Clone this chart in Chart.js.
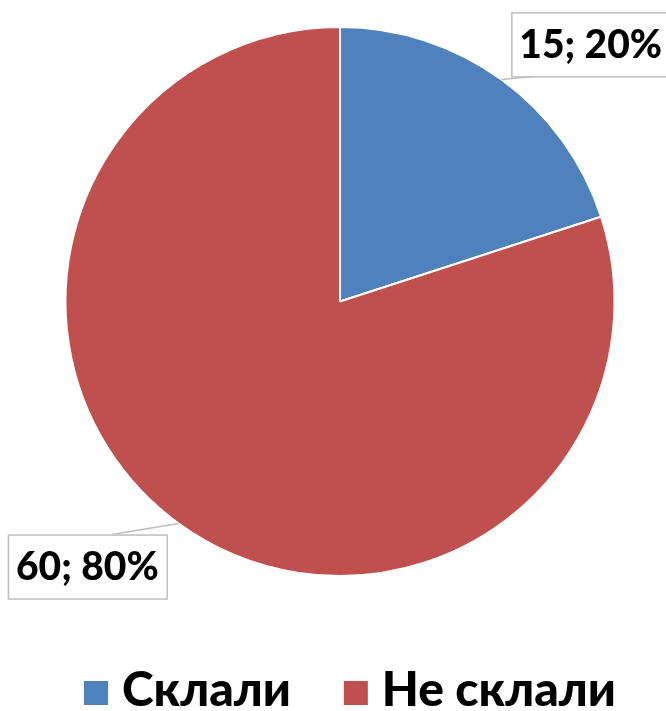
<!DOCTYPE html>
<html>
<head>
<meta charset="utf-8">
<script src="https://cdn.jsdelivr.net/npm/chart.js@4"></script>
<style>
  html, body { margin: 0; padding: 0; background: #fff; }
  #wrap { width: 666px; height: 711px; }
</style>
</head>
<body>
<div id="wrap"><canvas id="pie" width="666" height="711"></canvas></div>
<script>
// дані діаграми
const categories = ["Склали", "Не склали"];
const counts = [15, 60];
const percents = [20, 80];
const colors = ["#4F81BD", "#C0504D"];

const FONT = "Lato, 'Liberation Sans', sans-serif";

// підписи з рамками та виносні лінії
const calloutPlugin = {
  id: "callouts",
  afterDatasetsDraw(chart) {
    const ctx = chart.ctx;
    const arcs = chart.getDatasetMeta(0).data;
    ctx.save();
    ctx.font = "900 39px " + FONT;
    ctx.textBaseline = "middle";
    arcs.forEach((arc, i) => {
      const mid = (arc.startAngle + arc.endAngle) / 2;
      const ex = arc.x + Math.cos(mid) * arc.outerRadius;
      const ey = arc.y + Math.sin(mid) * arc.outerRadius;
      const text = counts[i] + "; " + percents[i] + "%";
      const w = ctx.measureText(text).width + 16;
      const h = 64;
      let bx, by, lx, ly;
      if (Math.cos(mid) >= 0) {
        bx = ex + 10; by = ey - 3 - h;
        lx = bx + 22; ly = by + h;
      } else {
        bx = ex - 12 - w; by = ey + 11;
        lx = bx + w - 55; ly = by;
      }
      ctx.strokeStyle = "#BFBFBF";
      ctx.lineWidth = 1.5;
      ctx.beginPath();
      ctx.moveTo(ex, ey);
      ctx.lineTo(lx, ly);
      ctx.stroke();
      ctx.fillStyle = "#fff";
      ctx.fillRect(bx, by, w, h);
      ctx.strokeRect(bx + 0.5, by + 0.5, w, h);
      ctx.fillStyle = "#000";
      ctx.textAlign = "center";
      ctx.fillText(text, bx + w / 2, by + h / 2 + 1);
    });
    ctx.restore();
  }
};

// легенда внизу
const legendPlugin = {
  id: "bottomLegend",
  afterDraw(chart) {
    const ctx = chart.ctx;
    ctx.save();
    ctx.font = "900 48px " + FONT;
    ctx.textBaseline = "alphabetic";
    ctx.textAlign = "left";
    let x = 84;
    const baseY = 706;
    categories.forEach((c, i) => {
      ctx.fillStyle = colors[i];
      ctx.fillRect(x, 681, 24, 24);
      x += 38;
      ctx.fillStyle = "#000";
      ctx.fillText(c, x, baseY);
      x += ctx.measureText(c).width + 53;
    });
    ctx.restore();
  }
};

new Chart(document.getElementById("pie").getContext("2d"), {
  type: "pie",
  data: {
    labels: categories,
    datasets: [
      {
        data: counts,
        backgroundColor: colors,
        borderColor: "#fff",
        borderWidth: 2,
      },
    ],
  },
  options: {
    responsive: false,
    animation: false,
    layout: { padding: { top: 26, bottom: 134, left: 14, right: 0 } },
    plugins: {
      legend: { display: false },
      tooltip: { enabled: false },
    },
  },
  plugins: [calloutPlugin, legendPlugin],
});
</script>
</body>
</html>
